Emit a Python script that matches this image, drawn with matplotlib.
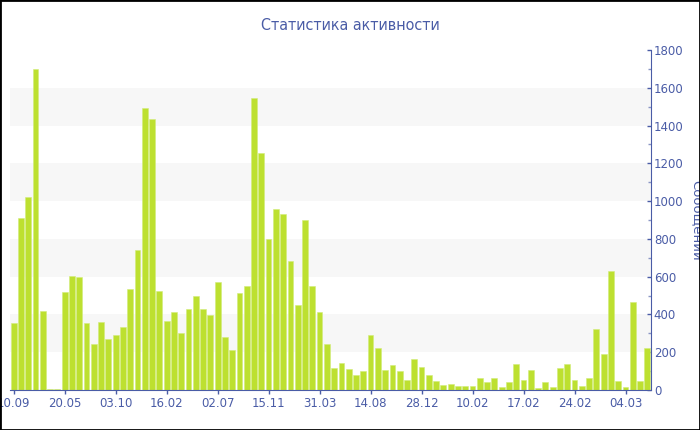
import matplotlib.pyplot as plt
from matplotlib.patches import Rectangle
from matplotlib.ticker import MultipleLocator

# message counts per period
counts = [353, 910, 1020, 1698, 418, 7, 7, 519, 605, 598,
          356, 245, 362, 268, 289, 335, 535, 741, 1493, 1436,
          524, 365, 413, 300, 429, 496, 427, 397, 570, 279,
          212, 514, 552, 1548, 1257, 799, 960, 932, 681, 452,
          898, 551, 413, 243, 114, 145, 113, 78, 102, 289,
          221, 104, 131, 101, 55, 162, 120, 78, 49, 26,
          34, 19, 19, 19, 62, 42, 64, 18, 41, 139,
          55, 104, 11, 44, 15, 116, 137, 51, 21, 62,
          321, 188, 632, 46, 14, 467, 46, 222]
tick_labels = ["10.09", "20.05", "03.10", "16.02", "02.07", "15.11", "31.03",
               "14.08", "28.12", "10.02", "17.02", "24.02", "04.03"]
tick_step = 7

blue = "#4a5ca6"
bar_color = "#bde030"

fig = plt.figure(figsize=(7, 4.3), dpi=100)
ax = fig.add_axes([10 / 700, 40 / 430, 641 / 700, 340 / 430])

# alternating horizontal bands
for lo in range(200, 1800, 400):
    ax.axhspan(lo, lo + 200, color="#f7f7f7", zorder=0, lw=0)

x = range(len(counts))
ax.bar(x, counts, width=0.8, color=bar_color, edgecolor="#d2ec7a",
       linewidth=0.4, zorder=2)

ax.set_xlim(-0.5, len(counts) - 0.5)
ax.set_ylim(0, 1800)

ax.set_xticks([i * tick_step for i in range(len(tick_labels))])
ax.set_xticklabels(tick_labels)
ax.tick_params(axis="x", colors=blue, labelcolor=blue, labelsize=8.5,
               length=3, width=1, pad=2)

ax.yaxis.tick_right()
ax.yaxis.set_label_position("right")
ax.yaxis.set_major_locator(MultipleLocator(200))
ax.yaxis.set_minor_locator(MultipleLocator(100))
ax.tick_params(axis="y", which="major", direction="in", length=3, width=1,
               colors=blue, labelcolor=blue, labelsize=8.5, pad=2)
ax.tick_params(axis="y", which="minor", direction="in", length=2, width=1,
               colors="#8a96c4")

for side in ["top", "left"]:
    ax.spines[side].set_visible(False)
ax.spines["right"].set_color(blue)
ax.spines["bottom"].set_color(blue)

ax.set_ylabel("Сообщений", color=blue, fontsize=9.5, rotation=270,
              labelpad=14)
fig.suptitle("Статистика активности", color=blue, fontsize=11.5,
             fontstretch="condensed", y=1 - 25 / 430, va="center")

# figure border
fig.patches.append(Rectangle((0, 0), 1, 1, transform=fig.transFigure,
                             fill=False, edgecolor="black", linewidth=2))

fig.savefig("out.png", dpi=100, facecolor="white")
